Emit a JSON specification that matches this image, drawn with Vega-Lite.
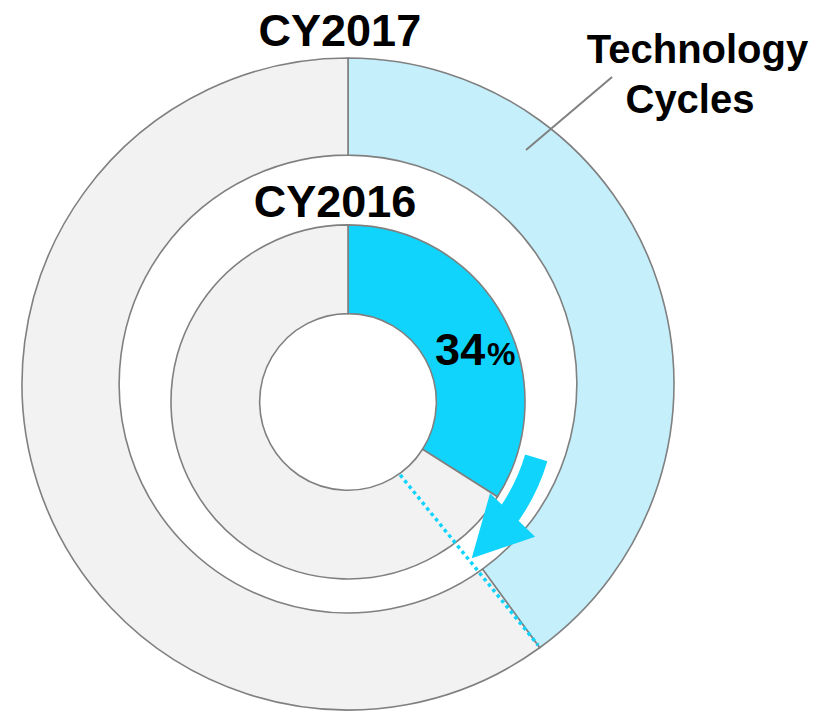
{
  "$schema": "https://vega.github.io/schema/vega-lite/v6.json",
  "autosize": {"type": "fit", "contains": "padding"},
  "width": 834,
  "height": 714,
  "padding": 0,
  "background": "white",
  "config": {"view": {"stroke": null}},
  "datasets": {
    "rings": [
      {"ring": "CY2017", "segment": "Technology Cycles 2017", "cx": 0, "cy": 0, "r0": 70.2, "r1": 100, "t0": 0, "t1": 40},
      {"ring": "CY2017", "segment": "Other", "cx": 0, "cy": 0, "r0": 70.2, "r1": 100, "t0": 40, "t1": 100},
      {"ring": "CY2016", "segment": "Technology Cycles 2016", "cx": 0, "cy": -5.5, "r0": 27.1, "r1": 54.3, "t0": 0, "t1": 34},
      {"ring": "CY2016", "segment": "Other", "cx": 0, "cy": -5.5, "r0": 27.1, "r1": 54.3, "t0": 34, "t1": 100}
    ],
    "arrow": [{"cx": 0, "cy": -5.5, "r0": 56.7, "r1": 63.8, "t0": 29.6, "t1": 35.6}],
    "arrowHead": [{"x": 46.3, "y": -44.6}],
    "lines": [
      {"line": "callout", "pt": 0, "x": 54.6, "y": 71.8},
      {"line": "callout", "pt": 1, "x": 81.0, "y": 94.2},
      {"line": "shift", "pt": 0, "x": 16.0, "y": -27.9},
      {"line": "shift", "pt": 1, "x": 58.3, "y": -80.1}
    ],
    "labels": [
      {"role": "year", "text": "CY2017", "x": -2.5, "y": 103.7},
      {"role": "year", "text": "CY2016", "x": -4.0, "y": 51.2},
      {"role": "value", "text": "34", "x": 34.4, "y": 5.8},
      {"role": "unit", "text": "%", "x": 42.6, "y": 5.8},
      {"role": "callout", "text": "Technology", "x": 107.2, "y": 98.5},
      {"role": "callout", "text": "Cycles", "x": 104.9, "y": 83.1}
    ]
  },
  "layer": [
    {
      "data": {"name": "rings"},
      "mark": {"type": "arc", "stroke": "#808080", "strokeWidth": 1.6},
      "encoding": {
        "x": {"field": "cx", "type": "quantitative", "scale": {"domain": [-106.75, 149.08], "nice": false, "zero": false}, "axis": null},
        "y": {"field": "cy", "type": "quantitative", "scale": {"domain": [-101.23, 117.79], "nice": false, "zero": false}, "axis": null},
        "theta": {"field": "t0", "type": "quantitative", "stack": null, "scale": {"domain": [0, 100], "range": [0, 6.283185307]}},
        "theta2": {"field": "t1"},
        "radius": {"field": "r0", "type": "quantitative", "stack": null, "scale": {"type": "linear", "domain": [0, 100], "range": [0, 326], "zero": true}},
        "radius2": {"field": "r1"},
        "color": {"field": "segment", "type": "nominal", "legend": null,
          "scale": {"domain": ["Technology Cycles 2017", "Technology Cycles 2016", "Other"], "range": ["#c4effb", "#10d4fc", "#f2f2f2"]}}
      }
    },
    {
      "data": {"name": "arrow"},
      "mark": {"type": "arc", "color": "#10d4fc", "strokeWidth": 0},
      "encoding": {
        "x": {"field": "cx", "type": "quantitative", "scale": {"domain": [-106.75, 149.08], "nice": false, "zero": false}, "axis": null},
        "y": {"field": "cy", "type": "quantitative", "scale": {"domain": [-101.23, 117.79], "nice": false, "zero": false}, "axis": null},
        "theta": {"field": "t0", "type": "quantitative", "stack": null, "scale": {"domain": [0, 100], "range": [0, 6.283185307]}},
        "theta2": {"field": "t1"},
        "radius": {"field": "r0", "type": "quantitative", "stack": null, "scale": {"type": "linear", "domain": [0, 100], "range": [0, 326], "zero": true}},
        "radius2": {"field": "r1"}
      }
    },
    {
      "data": {"name": "arrowHead"},
      "mark": {"type": "point", "filled": true, "opacity": 1, "color": "#10d4fc", "strokeWidth": 0, "size": 6400,
        "shape": "M-0.2225,-0.9025 L0.9025,0.1825 L-0.68,0.7225 Z"},
      "encoding": {
        "x": {"field": "x", "type": "quantitative", "scale": {"domain": [-106.75, 149.08], "nice": false, "zero": false}, "axis": null},
        "y": {"field": "y", "type": "quantitative", "scale": {"domain": [-101.23, 117.79], "nice": false, "zero": false}, "axis": null}
      }
    },
    {
      "data": {"name": "lines"},
      "transform": [{"filter": "datum.line === 'shift'"}],
      "mark": {"type": "line", "color": "#10d4fc", "strokeWidth": 3.5, "strokeDash": [3.5, 3.5]},
      "encoding": {
        "x": {"field": "x", "type": "quantitative", "scale": {"domain": [-106.75, 149.08], "nice": false, "zero": false}, "axis": null},
        "y": {"field": "y", "type": "quantitative", "scale": {"domain": [-101.23, 117.79], "nice": false, "zero": false}, "axis": null},
        "order": {"field": "pt"}
      }
    },
    {
      "data": {"name": "lines"},
      "transform": [{"filter": "datum.line === 'callout'"}],
      "mark": {"type": "line", "color": "#808080", "strokeWidth": 2},
      "encoding": {
        "x": {"field": "x", "type": "quantitative", "scale": {"domain": [-106.75, 149.08], "nice": false, "zero": false}, "axis": null},
        "y": {"field": "y", "type": "quantitative", "scale": {"domain": [-101.23, 117.79], "nice": false, "zero": false}, "axis": null},
        "order": {"field": "pt"}
      }
    },
    {
      "data": {"name": "labels"},
      "transform": [{"filter": "datum.role === 'year' || datum.role === 'value'"}],
      "mark": {"type": "text", "font": "Liberation Sans", "fontWeight": "bold", "fontSize": 45, "align": "center", "baseline": "alphabetic", "color": "#000000"},
      "encoding": {
        "x": {"field": "x", "type": "quantitative", "scale": {"domain": [-106.75, 149.08], "nice": false, "zero": false}, "axis": null},
        "y": {"field": "y", "type": "quantitative", "scale": {"domain": [-101.23, 117.79], "nice": false, "zero": false}, "axis": null},
        "text": {"field": "text"}
      }
    },
    {
      "data": {"name": "labels"},
      "transform": [{"filter": "datum.role === 'unit'"}],
      "mark": {"type": "text", "font": "Liberation Sans", "fontWeight": "bold", "fontSize": 32, "align": "left", "baseline": "alphabetic", "color": "#000000"},
      "encoding": {
        "x": {"field": "x", "type": "quantitative", "scale": {"domain": [-106.75, 149.08], "nice": false, "zero": false}, "axis": null},
        "y": {"field": "y", "type": "quantitative", "scale": {"domain": [-101.23, 117.79], "nice": false, "zero": false}, "axis": null},
        "text": {"field": "text"}
      }
    },
    {
      "data": {"name": "labels"},
      "transform": [{"filter": "datum.role === 'callout'"}],
      "mark": {"type": "text", "font": "Liberation Sans", "fontWeight": "bold", "fontSize": 40, "align": "center", "baseline": "alphabetic", "color": "#000000"},
      "encoding": {
        "x": {"field": "x", "type": "quantitative", "scale": {"domain": [-106.75, 149.08], "nice": false, "zero": false}, "axis": null},
        "y": {"field": "y", "type": "quantitative", "scale": {"domain": [-101.23, 117.79], "nice": false, "zero": false}, "axis": null},
        "text": {"field": "text"}
      }
    }
  ]
}
